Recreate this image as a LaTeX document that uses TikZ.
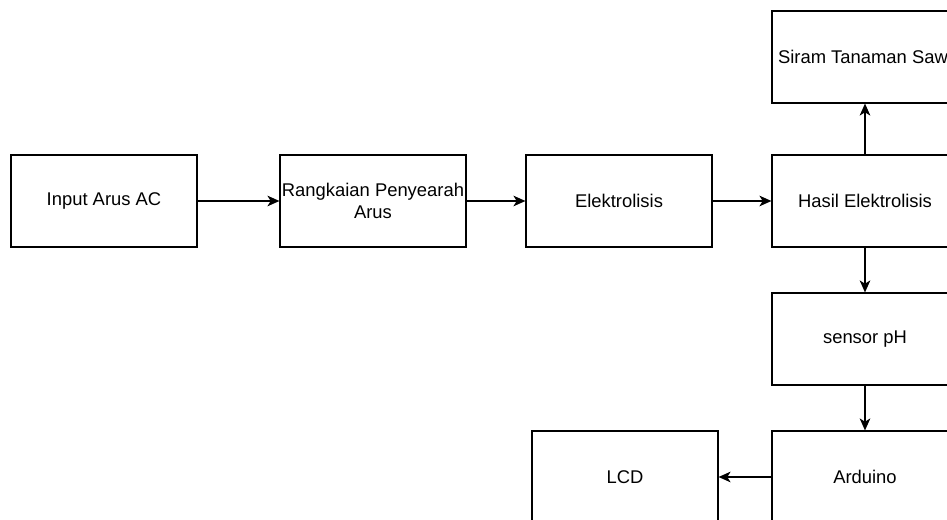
\documentclass[tikz,border=0pt]{standalone}
\usepackage{fontspec}
\setmainfont{Liberation Sans}
\usetikzlibrary{arrows.meta}

\begin{document}
\begin{tikzpicture}[x=0.75pt, y=-0.75pt,
  every node/.style = {shape=rectangle, draw, line width=0.9pt,
    minimum width=139.5pt, minimum height=69pt, inner sep=1pt,
    align=center, font=\fontsize{13.8}{16.5}\selectfont},
  link/.style = {-{Stealth[length=9pt,width=8pt,inset=2.5pt]}, line width=0.9pt}]
    \useasboundingbox (0,0) rectangle (947,520);
    \clip (0,0) rectangle (947,520);

  	\node (Input) at (104,201) {Input Arus AC};
  	\node (Penyearah) at (373,201) {Rangkaian Penyearah\\Arus};
  	\node (Elektrolisis) at (619,201) {Elektrolisis};
  	\node (Hasil) at (865,201) {Hasil Elektrolisis};
  	\node (Siram) at (865,57) {Siram Tanaman Sawi};
  	\node (Sensor) at (865,339) {sensor pH};
  	\node (Arduino) at (865,477) {Arduino};
  	\node (LCD) at (625,477) {LCD};

   	\draw[link] (Input.east) -- (Penyearah.west);
   	\draw[link] (Penyearah.east) -- (Elektrolisis.west);
   	\draw[link] (Elektrolisis.east) -- (Hasil.west);
   	\draw[link] (Hasil.north) -- (Siram.south);
   	\draw[link] (Hasil.south) -- (Sensor.north);
   	\draw[link] (Sensor.south) -- (Arduino.north);
   	\draw[link] (Arduino.west) -- (LCD.east);

\end{tikzpicture}
\end{document}
